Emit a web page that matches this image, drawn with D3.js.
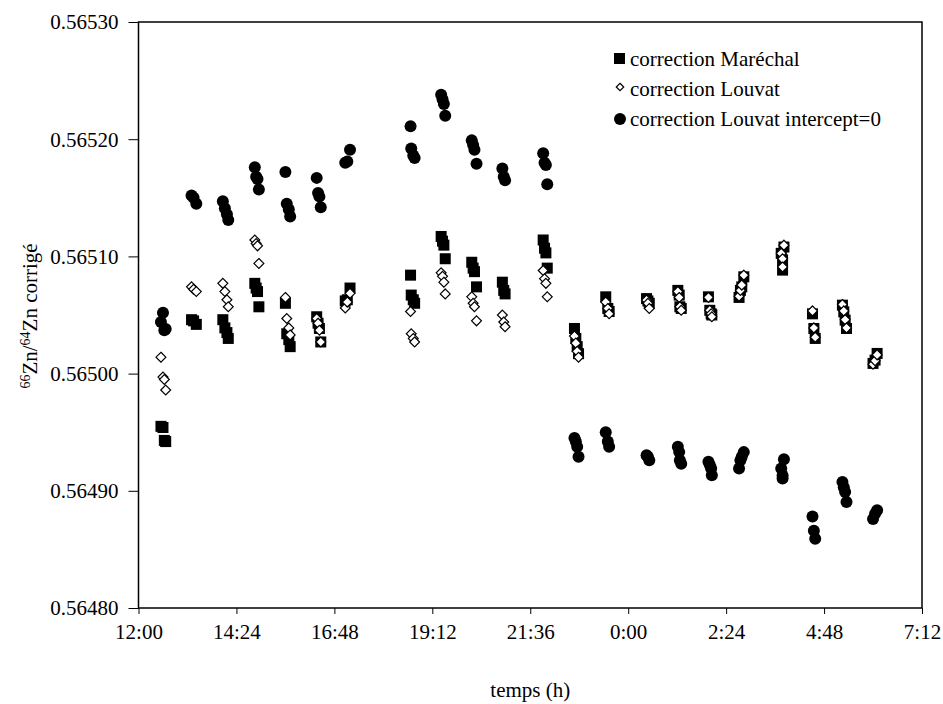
<!DOCTYPE html>
<html>
<head>
<meta charset="utf-8">
<script src="https://cdnjs.cloudflare.com/ajax/libs/d3/7.8.5/d3.min.js"></script>
<style>
	body { margin: 0; background: #fff; }
	svg text { font-family: "Liberation Serif", "Times New Roman", serif; fill: #000; }
</style>
</head>
<body>
<div id="scatter"></div>
<script>
// heures de mesure (après minuit = jour suivant)
var times = [
	"12:33", "12:36", "12:38", "12:40",
	"13:18", "13:21", "13:25",
	"14:04", "14:07", "14:10", "14:12",
	"14:51", "14:53", "14:55", "14:57",
	"15:36", "15:38", "15:41", "15:43",
	"16:22", "16:24", "16:26", "16:28",
	"17:04", "17:07", "17:11",
	"18:40", "18:41", "18:44", "18:46",
	"19:25", "19:27", "19:29", "19:31",
	"20:10", "20:12", "20:14", "20:17",
	"20:55", "20:57", "20:59",
	"21:55", "21:57", "21:59", "22:01",
	"22:41", "22:43", "22:45", "22:47",
	"23:27", "23:30", "23:32",
	"0:27", "0:29", "0:31",
	"1:13", "1:15", "1:16", "1:18",
	"1:58", "2:00", "2:02", "2:03",
	"2:43", "2:45", "2:47", "2:50",
	"3:45", "3:47", "3:47", "3:49",
	"4:31", "4:33", "4:35",
	"5:15", "5:17", "5:19", "5:21",
	"6:00", "6:03", "6:06"
];

var marechal = [
	0.564955, 0.564954, 0.564943, 0.564942,
	0.565046, 0.565045, 0.565042,
	0.565046, 0.565039, 0.565035, 0.565030,
	0.565077, 0.565073, 0.565070, 0.565057,
	0.565060, 0.565034, 0.565029, 0.565023,
	0.5650485, 0.565043, 0.5650385, 0.565027,
	0.565062, 0.565063, 0.565073,
	0.565084, 0.565067, 0.565063, 0.565060,
	0.565117, 0.565113, 0.5651096, 0.565098,
	0.565095, 0.565090, 0.565087, 0.565074,
	0.565078, 0.565071, 0.565068,
	0.565114, 0.565107, 0.565103, 0.565090,
	0.5650385, 0.565030, 0.565023, 0.565017,
	0.5650655, 0.5650556, 0.565053,
	0.565064, 0.565062, 0.565060,
	0.565071, 0.565067, 0.565057, 0.5650556,
	0.5650655, 0.565054, 0.565051, 0.565050,
	0.565065, 0.565071, 0.565074, 0.5650826,
	0.5651026, 0.565097, 0.5650883, 0.565108,
	0.565051, 0.5650385, 0.565030,
	0.5650584, 0.5650527, 0.5650456, 0.5650385,
	0.5650087, 0.5650115, 0.5650172
];

var louvat = [
	0.565014, 0.564997, 0.564995, 0.564986,
	0.565074, 0.565072, 0.565070,
	0.565077, 0.565070, 0.565063, 0.565057,
	0.565114, 0.565111, 0.565109, 0.565094,
	0.565065, 0.565047, 0.565039, 0.565033,
	0.565047, 0.565043, 0.565037, 0.565027,
	0.565056, 0.565061, 0.5650685,
	0.565053, 0.565034, 0.565030, 0.565027,
	0.565086, 0.565083, 0.565078, 0.565068,
	0.5650655, 0.565060, 0.565057, 0.565045,
	0.565050, 0.565044, 0.565040,
	0.565088, 0.565081, 0.565077, 0.5650655,
	0.565032, 0.565026, 0.565019, 0.565014,
	0.565061, 0.5650556, 0.565051,
	0.5650627, 0.565060, 0.5650556,
	0.565070, 0.565065, 0.565057, 0.565054,
	0.565065, 0.565054, 0.565051, 0.5650485,
	0.565066, 0.565071, 0.5650755, 0.565084,
	0.5651026, 0.565098, 0.565091, 0.5651096,
	0.5650535, 0.565039, 0.565031,
	0.565059, 0.5650535, 0.565046, 0.565039,
	0.565008, 0.565011, 0.565016
];

var intercept = [
	0.565044, 0.565052, 0.565037, 0.565038,
	0.565152, 0.565150, 0.565145,
	0.565147, 0.565141, 0.565136, 0.565131,
	0.565176, 0.565168, 0.565166, 0.565157,
	0.565172, 0.565145, 0.565140, 0.565134,
	0.565167, 0.565154, 0.565151, 0.565142,
	0.565180, 0.565181, 0.565191,
	0.565211, 0.565192, 0.565186, 0.565184,
	0.565238, 0.565234, 0.565230, 0.565220,
	0.565199, 0.565195, 0.565191, 0.565179,
	0.565175, 0.565168, 0.565165,
	0.565188, 0.565180, 0.565178, 0.5651615,
	0.564945, 0.564942, 0.5649375, 0.564929,
	0.564950, 0.564942, 0.5649375,
	0.5649304, 0.564929, 0.564926,
	0.5649375, 0.564933, 0.564926, 0.564923,
	0.5649247, 0.564922, 0.564919, 0.5649133,
	0.564919, 0.564926, 0.564929, 0.564933,
	0.564919, 0.5649105, 0.564913, 0.564927,
	0.564878, 0.564866, 0.564859,
	0.5649076, 0.564903, 0.564899, 0.5648905,
	0.564876, 0.5648805, 0.5648834
];

var yTicks = [0.56480, 0.56490, 0.56500, 0.56510, 0.56520, 0.56530];
var xTickLabels = ["12:00", "14:24", "16:48", "19:12", "21:36", "0:00", "2:24", "4:48", "7:12"];

var seriesNames = ["correction Maréchal", "correction Louvat", "correction Louvat intercept=0"];

var serif = "'Liberation Serif', 'Times New Roman', serif";

// "HH:MM" -> heures depuis minuit du premier jour
function toHours(t) {
	var p = t.split(":");
	var h = Number(p[0]) + Number(p[1]) / 60;
	return h < 12 ? h + 24 : h;
}

var margin = {left: 138.5, top: 22, right: 21, bottom: 96};
var width = 943, height = 704;
var w = width - margin.left - margin.right;
var h = height - margin.top - margin.bottom;

var svg = d3.select("#scatter").append("svg")
	.attr("width", width)
	.attr("height", height)
	.attr("font-family", serif);

var chart = svg.append("g")
	.attr("transform", "translate(" + margin.left + "," + margin.top + ")");

var xScale = d3.scaleLinear()
	.domain([toHours(xTickLabels[0]), toHours(xTickLabels[xTickLabels.length - 1])])
	.range([0, w]);
var yScale = d3.scaleLinear()
	.domain([yTicks[0], yTicks[yTicks.length - 1]])
	.range([h, 0]);

var xAxis = d3.axisBottom(xScale)
	.tickValues(xTickLabels.map(toHours))
	.tickSize(6)
	.tickPadding(10)
	.tickFormat(function(d, i) { return xTickLabels[i]; });
var yAxis = d3.axisLeft(yScale)
	.tickValues(yTicks)
	.tickSize(10)
	.tickPadding(10)
	.tickFormat(d3.format(".5f"));

chart.append("g")
	.attr("class", "x axis")
	.attr("transform", "translate(0," + h + ")")
	.call(xAxis);

chart.append("g")
	.attr("class", "y axis")
	.call(yAxis);

chart.selectAll(".axis").attr("font-family", serif);
chart.selectAll(".axis path").remove();
chart.selectAll(".axis line").attr("stroke", "#000").attr("stroke-width", 1);
chart.selectAll(".axis text").style("font-size", "21px");
chart.selectAll(".y.axis text").attr("dy", "0.33em");

// cadre
chart.append("rect")
	.attr("x", 0).attr("y", 0)
	.attr("width", w).attr("height", h)
	.attr("fill", "none")
	.attr("stroke", "#000")
	.attr("stroke-width", 1.5);

var pts = times.map(function(t, i) {
	return {t: toHours(t), m: marechal[i], l: louvat[i], z: intercept[i]};
});

// Maréchal : carrés noirs
chart.append("g").selectAll("rect")
	.data(pts)
	.enter()
	.append("rect")
	.attr("x", function(d) { return xScale(d.t) - 5.5; })
	.attr("y", function(d) { return yScale(d.m) - 5.5; })
	.attr("width", 11)
	.attr("height", 11)
	.attr("fill", "#000");

var diamond = d3.symbol().type(d3.symbolDiamond2).size(62);

// Louvat : losanges blancs
chart.append("g").selectAll("path")
	.data(pts)
	.enter()
	.append("path")
	.attr("d", diamond)
	.attr("transform", function(d) { return "translate(" + xScale(d.t) + "," + yScale(d.l) + ")"; })
	.attr("fill", "#fff")
	.attr("stroke", "#000")
	.attr("stroke-width", 1.2);

// Louvat intercept=0 : ronds noirs
chart.append("g").selectAll("circle")
	.data(pts)
	.enter()
	.append("circle")
	.attr("cx", function(d) { return xScale(d.t); })
	.attr("cy", function(d) { return yScale(d.z); })
	.attr("r", 6)
	.attr("fill", "#000");

// légende
var legend = svg.append("g")
	.attr("transform", "translate(620, 0)");

var rows = legend.selectAll("g")
	.data(seriesNames)
	.enter()
	.append("g")
	.attr("transform", function(d, i) { return "translate(0," + (62 + i * 30) + ")"; });

rows.each(function(d, i) {
	var g = d3.select(this);
	if (i === 0) {
		g.append("rect").attr("x", -6).attr("y", -9).attr("width", 11).attr("height", 11).attr("fill", "#000");
	} else if (i === 1) {
		g.append("path").attr("d", d3.symbol().type(d3.symbolDiamond2).size(36))
			.attr("transform", "translate(0,-5)")
			.attr("fill", "#fff").attr("stroke", "#000").attr("stroke-width", 1.2);
	} else {
		g.append("circle").attr("cx", 0).attr("cy", -3).attr("r", 6).attr("fill", "#000");
	}
});

rows.append("text")
	.attr("x", 10)
	.attr("y", 4)
	.style("font-size", "21px")
	.text(function(d) { return d; });

// titres des axes
svg.append("text")
	.attr("x", margin.left + w / 2)
	.attr("y", 697)
	.attr("text-anchor", "middle")
	.style("font-size", "21px")
	.text("temps (h)");

var yTitle = svg.append("text")
	.attr("transform", "translate(37," + (margin.top + h / 2 + 1) + ") rotate(-90)")
	.attr("text-anchor", "middle")
	.style("font-size", "21px");
yTitle.append("tspan").attr("baseline-shift", "super").style("font-size", "14px").text("66");
yTitle.append("tspan").text("Zn/");
yTitle.append("tspan").attr("baseline-shift", "super").style("font-size", "14px").text("64");
yTitle.append("tspan").text("Zn corrigé");
</script>
</body>
</html>
